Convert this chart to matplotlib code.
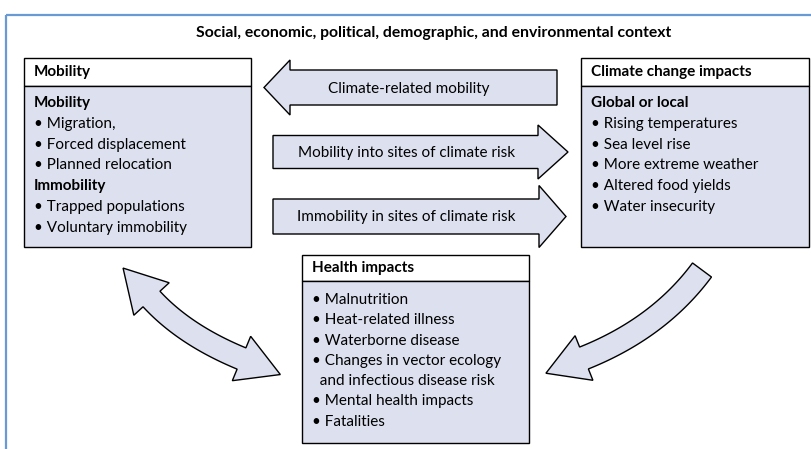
import numpy as np
import matplotlib
matplotlib.use("Agg")
import matplotlib.pyplot as plt
from matplotlib.patches import Rectangle, FancyArrow, Polygon

plt.rcParams['font.family'] = ['Lato', 'DejaVu Sans']

# Texts of the diagram
title = "Social, economic, political, demographic, and environmental context"

mobility_header = "Mobility"
mobility_lines = [("Mobility", True), ("• Migration,", False),
                  ("• Forced displacement", False), ("• Planned relocation", False),
                  ("Immobility", True), ("• Trapped populations", False),
                  ("• Voluntary immobility", False)]

climate_header = "Climate change impacts"
climate_lines = [("Global or local", True), ("• Rising temperatures", False),
                 ("• Sea level rise", False), ("• More extreme weather", False),
                 ("• Altered food yields", False), ("• Water insecurity", False)]

health_header = "Health impacts"
health_lines = [("• Malnutrition", False), ("• Heat-related illness", False),
                ("• Waterborne disease", False), ("• Changes in vector ecology", False),
                ("  and infectious disease risk", False), ("• Mental health impacts", False),
                ("• Fatalities", False)]

arrow_labels = ["Climate-related mobility",
                "Mobility into sites of climate risk",
                "Immobility in sites of climate risk"]

FILL = '#dde1ef'
FRAME = '#6a9ad6'
FS = 11

fig = plt.figure(figsize=(8.11, 4.49), dpi=100)
ax = fig.add_axes([0, 0, 1, 1])
ax.set_xlim(0, 811)
ax.set_ylim(449, 0)
ax.axis('off')

# outer frame (top and left only visible)
ax.plot([6, 811], [15, 15], color=FRAME, lw=1.6, solid_capstyle='butt')
ax.plot([6, 6], [15, 449], color=FRAME, lw=1.6, solid_capstyle='butt')

ax.text(434, 33, title, ha='center', va='center', fontsize=11.3, fontweight='bold')


def box(x0, y0, x1, y1, yh, header, lines, ty0, dy):
    ax.add_patch(Rectangle((x0, y0), x1 - x0, yh - y0, facecolor='white',
                           edgecolor='black', lw=1.0))
    ax.add_patch(Rectangle((x0, yh), x1 - x0, y1 - yh, facecolor=FILL,
                           edgecolor='black', lw=1.0))
    ax.text(x0 + 10, (y0 + yh) / 2, header, ha='left', va='center',
            fontsize=FS, fontweight='bold')
    for i, (s, bold) in enumerate(lines):
        ax.text(x0 + 10, ty0 + i * dy, s, ha='left', va='center', fontsize=FS,
                fontweight='bold' if bold else 'normal')


box(24, 58, 251, 247, 86, mobility_header, mobility_lines, 103, 20.8)
box(581, 58, 809, 247, 86, climate_header, climate_lines, 103, 20.8)
box(302, 255, 529, 443, 281, health_header, health_lines, 300, 20.3)

# straight arrows
straight = [(557, 87.5, 264, 35, 55, 26),
            (273, 152, 568, 33, 54, 30),
            (273, 216.5, 566, 35, 62, 27)]
for (xs, yc, xe, w, hw, hl), lab in zip(straight, arrow_labels):
    ax.add_patch(FancyArrow(xs, yc, xe - xs, 0, width=w, head_width=hw,
                            head_length=hl, length_includes_head=True,
                            facecolor=FILL, edgecolor='black', lw=1.0))
    ax.text((273 + 540) / 2 if xe > xs else 409, yc + 1, lab, ha='center',
            va='center', fontsize=FS)


def curved_arrow(p0, pc, p2, half_w, head_half, head_len, both):
    p0, pc, p2 = map(np.asarray, (p0, pc, p2))
    t = np.linspace(0, 1, 60)[:, None]
    pts = (1 - t) ** 2 * p0 + 2 * (1 - t) * t * pc + t ** 2 * p2
    d = 2 * (1 - t) * (pc - p0) + 2 * t * (p2 - pc)
    d = d / np.linalg.norm(d, axis=1)[:, None]
    n = np.column_stack([-d[:, 1], d[:, 0]])
    side_a = pts + n * half_w
    side_b = pts - n * half_w
    tip2 = p2 + d[-1] * head_len
    poly = list(side_a)
    poly += [p2 + n[-1] * head_half, tip2, p2 - n[-1] * head_half]
    poly += list(side_b[::-1])
    if both:
        tip0 = p0 - d[0] * head_len
        poly += [p0 - n[0] * head_half, tip0, p0 + n[0] * head_half]
    ax.add_patch(Polygon(poly, closed=True, facecolor=FILL, edgecolor='black',
                         lw=1.0, joinstyle='miter'))


curved_arrow((151.5, 299), (184.6, 335), (241.5, 358.5), 11.5, 24, 42, True)
curved_arrow((702, 270), (659, 328), (584, 358), 11.8, 24, 41, False)

fig.savefig('out.png', dpi=100)
